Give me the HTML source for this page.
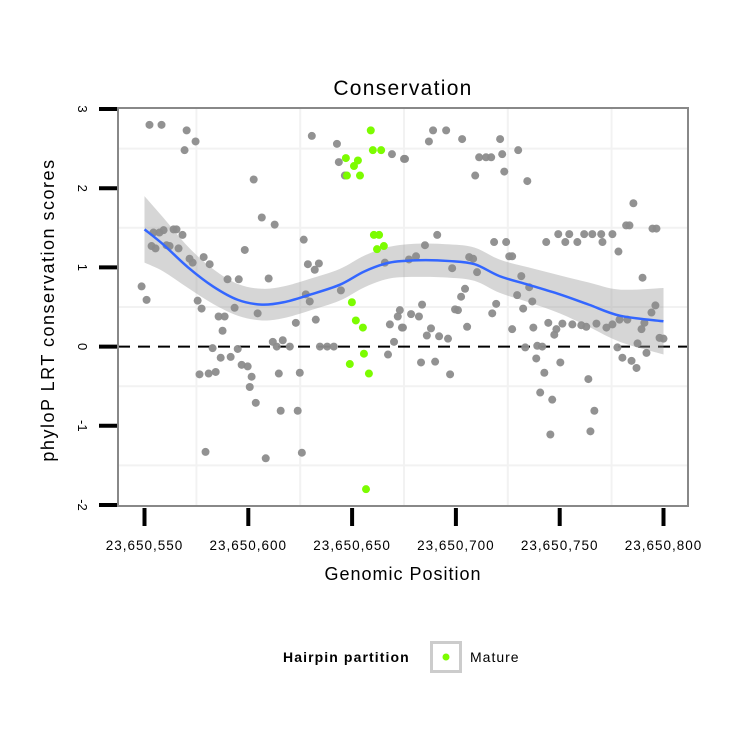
<!DOCTYPE html>
<html><head><meta charset="utf-8"><style>
html,body{margin:0;padding:0;background:#fff;}
svg{display:block;font-family:"Liberation Sans",Arial,sans-serif;}
</style></head><body>
<svg id="chart" width="750" height="750" viewBox="0 0 750 750" xmlns="http://www.w3.org/2000/svg">
<rect width="750" height="750" fill="#fff"/>
<text x="403" y="95" font-size="21" letter-spacing="1.3" text-anchor="middle">Conservation</text>
<g id="grid"></g>
<g id="band"></g>
<g id="pts"></g>
<g id="line"></g>
<rect x="118" y="108" width="570" height="398" fill="none" stroke="#888" stroke-width="2"/>
<g id="axes"></g>
<text x="403" y="580" font-size="18" letter-spacing="1" text-anchor="middle">Genomic Position</text>
<text transform="translate(54,310) rotate(-90)" font-size="18" letter-spacing="1.5" text-anchor="middle">phyloP LRT conservation scores</text>
<g>
<text x="283" y="662" font-size="14" letter-spacing="1.1" font-weight="bold">Hairpin partition</text>
<rect x="431.5" y="642.5" width="29" height="29" fill="#fff" stroke="#ccc" stroke-width="3"/>
<circle cx="446" cy="657" r="3.5" fill="#7cfc00"/>
<text x="470" y="662" font-size="14" letter-spacing="1">Mature</text>
</g>
</svg>
<script>
const BASE = 23650550;
const xTicks = [23650550, 23650600, 23650650, 23650700, 23650750, 23650800];
const xTickLabels = ["23,650,550","23,650,600","23,650,650","23,650,700","23,650,750","23,650,800"];
const yTicks = [-2,-1,0,1,2,3];
const yTickLabels = ["-2","-1","0","1","2","3"];
const xMinorGrid = [23650575,23650625,23650675,23650725,23650775];
const yMinorGrid = [-1.5,-0.5,0.5,1.5,2.5];
// grey points: offset from 23,650,550 and score
const greyX = [2.4,8.2,20.3,24.6,19.3,52.6,80.6,92.7,93.6,96.5,119.2,125,
4.3,7.2,9.2,14,15.4,18.3,3.4,5.3,10.6,12.1,16.4,21.7,23.2,28.5,31.4,48.3,56.5,62.7,40,45.4,59.8,-1.4,1,25.6,27.5,35.7,38.6,43.4,37.6,54.5,76.7,78.7,84,82,77.7,79.6,82.5,72.9,94.6,115.8,123,122,118.2,124.5,120.2,117.3,
61.8,66.6,70,63.7,84.5,91.2,88,
32.8,44.9,36.7,41.5,46.8,49.7,26.5,30.9,34.3,51.6,50.7,53.6,64.7,74.8,65.6,73.8,29.4,58.4,75.8,
139,145.3,137,153,171.3,180,172.3,161.2,164.5,167,159.3,173.3,184.4,125.5,
235.5,232,233.6,244.7,246.6,199.3,204.6,211.8,215.7,220,225.4,193.5,202.7,208.5,220.6,228.3,
141,135.1,168.4,174.2,175.7,177.1,127.4,130.8,156.4,158.3,148.2,160.2,181.5,185.3,186.8,182.4,179.5,154.4,152.5,169.4,167.5,149.6,151,133.7,128.4,132.2,124,138,136,141.9,146.2,155.4,177.1,187.3,194.5,198.4,197.4,201.3,206.1,210.4,212.8,217.7,222.5,225.4,228.8,232.6,239.4,240.8,246.1,244.2,239.9,248.1,250,
183.4,189.2,191.6,227.8,237.5,241.8,230.2,234.6,237,188.7,133.2,140,147.2,200.3,192.6,213.8,190.6,196.4,216.7,195.5,214.8];
const greyY = [2.80,2.80,2.73,2.59,2.48,2.11,2.66,2.56,2.33,2.16,2.43,2.37,
1.44,1.44,1.47,1.48,1.48,1.41,1.27,1.24,1.28,1.27,1.24,1.11,1.06,1.13,1.04,1.22,1.63,1.54,0.85,0.85,0.86,0.76,0.59,0.58,0.48,0.38,0.38,0.49,0.20,0.42,1.35,1.04,1.05,0.97,0.66,0.57,0.34,0.30,0.71,1.06,0.46,0.38,0.28,0.24,0.06,-0.10,
0.06,0.08,0,0,0,0,0,
-0.02,-0.03,-0.14,-0.13,-0.23,-0.25,-0.35,-0.34,-0.32,-0.38,-0.51,-0.71,-0.34,-0.33,-0.81,-0.81,-1.33,-1.41,-1.34,
2.73,2.73,2.59,2.62,2.62,2.48,2.43,2.39,2.39,2.39,2.16,2.21,2.09,2.37,
1.81,1.53,1.53,1.49,1.49,1.42,1.42,1.42,1.42,1.42,1.42,1.32,1.32,1.32,1.32,1.20,
1.41,1.28,1.32,1.32,1.14,1.14,1.10,1.14,1.13,1.11,0.99,0.94,0.89,0.75,0.57,0.48,0.65,0.73,0.63,0.54,0.42,0.47,0.46,0.53,0.41,0.38,0.24,0.23,0.14,0.13,0.10,0.25,0.22,0.24,0.30,0.22,0.15,0.29,0.28,0.27,0.25,0.29,0.24,0.28,0.34,0.34,0.22,0.30,0.52,0.43,0.87,0.11,0.10,
-0.01,0.01,0,-0.01,0.04,-0.08,-0.14,-0.18,-0.27,-0.15,-0.20,-0.19,-0.35,-0.20,-0.33,-0.41,-0.58,-0.67,-0.81,-1.11,-1.07];
// mature (green) points
const matureX = [109,110,114,97,102.8,100.9,97.5,103.8,110.5,113,112,115.3,99.9,101.8,105.2,105.7,98.9,108.1,106.7];
const matureY = [2.73,2.48,2.48,2.38,2.35,2.28,2.16,2.16,1.41,1.41,1.23,1.27,0.56,0.33,0.24,-0.09,-0.22,-0.34,-1.80];
// loess fit
const fitX = [0,9,21,33,45,56.5,67,79,94,106,118,132,147,159,171,185,200,214,229,250];
const fitY = [1.48,1.29,1.00,0.76,0.59,0.53,0.56,0.65,0.78,0.95,1.06,1.09,1.08,1.04,0.89,0.78,0.66,0.53,0.39,0.32];
const fitSE = [0.42,0.34,0.26,0.22,0.2,0.2,0.2,0.2,0.2,0.2,0.2,0.21,0.21,0.21,0.21,0.22,0.24,0.28,0.33,0.42];

const NS="http://www.w3.org/2000/svg";
const X0=144.5, XS=2.076, Y0=346.6, YS=79.2;
function xs(off){return X0+off*XS;}
function xAbs(v){return xs(v-BASE);}
function ys(v){return Y0-v*YS;}
function mk(tag,attrs,parent){const e=document.createElementNS(NS,tag);for(const k in attrs)e.setAttribute(k,attrs[k]);parent.appendChild(e);return e;}
// Catmull-Rom smooth path through pixel points (continuing an existing path if cont)
function smooth(P,cont){
  let s=(cont?'L':'M')+P[0][0]+','+P[0][1];
  for(let i=0;i<P.length-1;i++){
    const p0=P[Math.max(0,i-1)],p1=P[i],p2=P[i+1],p3=P[Math.min(P.length-1,i+2)];
    const c1=[p1[0]+(p2[0]-p0[0])/6,p1[1]+(p2[1]-p0[1])/6];
    const c2=[p2[0]-(p3[0]-p1[0])/6,p2[1]-(p3[1]-p1[1])/6];
    s+='C'+c1[0]+','+c1[1]+' '+c2[0]+','+c2[1]+' '+p2[0]+','+p2[1];
  }
  return s;
}

const grid=document.getElementById('grid');
mk('rect',{x:118,y:108,width:570,height:398,fill:'#fff'},grid);
xMinorGrid.forEach(v=>{const l=mk('line',{x1:xAbs(v),x2:xAbs(v),y1:108,y2:506,stroke:'#f2f2f2','stroke-width':2},grid);

});
yMinorGrid.forEach(v=>{const l=mk('line',{x1:118,x2:688,y1:ys(v),y2:ys(v),stroke:'#f2f2f2','stroke-width':2},grid);

});

const band=document.getElementById('band');
const upper=fitX.map((x,i)=>[xs(x),ys(fitY[i]+fitSE[i])]);
const lower=fitX.map((x,i)=>[xs(x),ys(fitY[i]-fitSE[i])]).reverse();
const bp=mk('path',{d:smooth(upper,false)+smooth(lower,true)+'Z',fill:'#999','fill-opacity':0.4},band);



const zl=mk('line',{x1:118,x2:688,y1:ys(0),y2:ys(0),stroke:'#000','stroke-width':2,'stroke-dasharray':'12,8'},grid);



const pts=document.getElementById('pts');
greyX.forEach((x,i)=>{const c=mk('circle',{cx:xs(x),cy:ys(greyY[i]),r:4,fill:'#8c8c8c','fill-opacity':0.95},pts);

});
matureX.forEach((x,i)=>{const c=mk('circle',{cx:xs(x),cy:ys(matureY[i]),r:4,fill:'#7cfc00'},pts);

});

const line=document.getElementById('line');
const LP=fitX.map((x,i)=>[xs(x),ys(fitY[i])]);
const lp=mk('path',{d:smooth(LP,false),fill:'none',stroke:'#3366ff','stroke-width':2.5,'stroke-linejoin':'round'},line);



const axes=document.getElementById('axes');
xTicks.forEach((v,i)=>{const t=mk('line',{x1:xAbs(v),x2:xAbs(v),y1:508,y2:526,stroke:'#000','stroke-width':4},axes);


const tx=mk('text',{x:xAbs(v),y:550,'font-size':13.5,'letter-spacing':1,'text-anchor':'middle'},axes);
tx.textContent=xTickLabels[i];

});
yTicks.forEach((v,i)=>{const t=mk('line',{x1:99,x2:117,y1:ys(v),y2:ys(v),stroke:'#000','stroke-width':4},axes);


const tx=mk('text',{transform:'translate(78,'+ys(v)+') rotate(90)','font-size':13,'text-anchor':'middle'},axes);
tx.textContent=yTickLabels[i];

});
</script>
</body></html>
